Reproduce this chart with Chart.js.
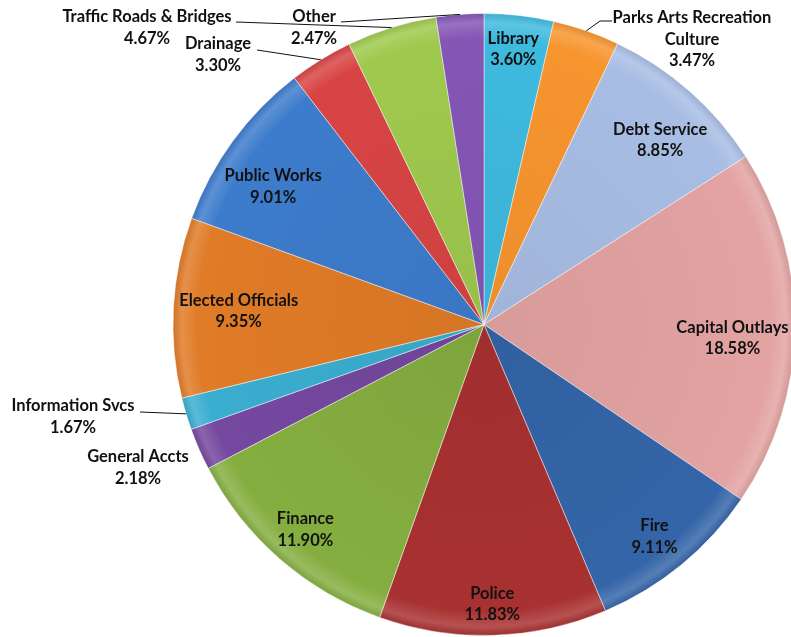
<!DOCTYPE html>
<html>
<head>
<meta charset="utf-8">
<script src="https://cdn.jsdelivr.net/npm/chart.js@4"></script>
<style>
  html, body { margin: 0; padding: 0; background: #fff; overflow: hidden; }
  #wrap { position: absolute; left: 0; top: 0; width: 800px; height: 637px; }
</style>
</head>
<body>
<div id="wrap"><canvas id="budgetChart"></canvas></div>
<script>
// budget share by department, clockwise from 12 o'clock
const departments = ['Library', 'Parks Arts Recreation Culture', 'Debt Service', 'Capital Outlays', 'Fire',
    'Police', 'Finance', 'General Accts', 'Information Svcs', 'Elected Officials', 'Public Works',
    'Drainage', 'Traffic Roads & Bridges', 'Other'];
const shares = [3.60, 3.47, 8.85, 18.58, 9.11, 11.83, 11.90, 2.18, 1.67, 9.35, 9.01, 3.30, 4.67, 2.47];
const sliceColors = ['#3fbadf', '#f7952f', '#a8bde4', '#e2a3a2', '#3465a8', '#a83131', '#85ae40',
    '#74489f', '#3aaed0', '#e07b27', '#3d7ccc', '#d84444', '#9fc94e', '#8456b5'];

// where each label goes: inside at a fraction of the radius (turn = degrees nudge),
// or outside at a fixed spot with a leader line back to the rim
const labelLayout = {
    'Library': { inside: 0.89, turn: -0.4 },
    'Parks Arts Recreation Culture': { lines: ['Parks Arts Recreation', 'Culture'], x: 692, y: 18, leader: [[600, 21], [612, 21]] },
    'Debt Service': { inside: 0.82, turn: 2.3 },
    'Capital Outlays': { inside: 0.80, turn: 2.4 },
    'Fire': { inside: 0.875, turn: 0.6 },
    'Police': { inside: 0.90 },
    'Finance': { inside: 0.875 },
    'General Accts': { x: 138, y: 457 },
    'Information Svcs': { x: 73, y: 406, leader: [[140, 412]] },
    'Elected Officials': { inside: 0.79 },
    'Public Works': { inside: 0.81, turn: -3 },
    'Drainage': { x: 218, y: 44, leader: [[257, 50]] },
    'Traffic Roads & Bridges': { x: 147, y: 17, leader: [[236, 22]] },
    'Other': { x: 314, y: 17, leader: [[341, 22]] }
};

function shade(hex, amt) {
    const n = parseInt(hex.slice(1), 16);
    let r = n >> 16, g = (n >> 8) & 255, b = n & 255;
    const f = c => Math.max(0, Math.min(255, Math.round(amt < 0 ? c * (1 + amt) : c + (255 - c) * amt)));
    return 'rgb(' + f(r) + ',' + f(g) + ',' + f(b) + ')';
}

// flat fill with a bevelled highlight just inside the rim
function sliceFill(ctx) {
    const base = sliceColors[ctx.dataIndex];
    const area = ctx.chart.chartArea;
    if (!area) return base;
    const cx = (area.left + area.right) / 2, cy = (area.top + area.bottom) / 2;
    const r = Math.min(area.right - area.left, area.bottom - area.top) / 2;
    const g = ctx.chart.ctx.createRadialGradient(cx, cy, 0, cx, cy, r);
    g.addColorStop(0, shade(base, -0.05));
    g.addColorStop(0.92, base);
    g.addColorStop(0.97, shade(base, 0.16));
    g.addColorStop(1, shade(base, -0.08));
    return g;
}

const sliceLabels = {
    id: 'sliceLabels',
    afterDatasetsDraw(chart) {
        const c = chart.ctx;
        const arcs = chart.getDatasetMeta(0).data;
        c.save();
        c.font = 'bold 16.5px Lato';
        c.fillStyle = '#111';
        c.textAlign = 'center';
        c.textBaseline = 'middle';
        c.strokeStyle = '#111';
        c.lineWidth = 1;
        arcs.forEach((arc, i) => {
            const name = departments[i];
            const spec = labelLayout[name];
            const p = arc.getProps(['x', 'y', 'startAngle', 'endAngle', 'outerRadius'], true);
            const mid = (p.startAngle + p.endAngle) / 2;
            const pct = shares[i].toFixed(2) + '%';
            const lines = (spec.lines || [name]).concat([pct]);
            let tx, ty;
            if (spec.inside) {
                const d = p.outerRadius * spec.inside;
                const a = mid + (spec.turn || 0) * Math.PI / 180;
                tx = p.x + Math.cos(a) * d;
                ty = p.y + Math.sin(a) * d - (lines.length - 1) * 10.75;
            } else {
                tx = spec.x;
                ty = spec.y;
                if (spec.leader) {
                    c.beginPath();
                    c.moveTo(p.x + Math.cos(mid) * p.outerRadius, p.y + Math.sin(mid) * p.outerRadius);
                    spec.leader.forEach(pt => c.lineTo(pt[0], pt[1]));
                    c.stroke();
                }
            }
            lines.forEach((t, k) => c.fillText(t, tx, ty + k * 21.5));
        });
        c.restore();
    }
};

const ctx = document.getElementById('budgetChart').getContext('2d');
const budgetChart = new Chart(ctx, {
    type: 'pie',
    data: {
        labels: departments,
        datasets: [{
            data: shares,
            backgroundColor: sliceFill,
            borderColor: 'rgba(255,255,255,0.45)',
            borderWidth: 1
        }]
    },
    options: {
        responsive: true,
        maintainAspectRatio: false,
        animation: false,
        layout: {
            padding: { left: 172, right: 4, top: 13, bottom: 1 }
        },
        plugins: {
            legend: { display: false },
            tooltip: { enabled: false }
        }
    },
    plugins: [sliceLabels]
});
</script>
</body>
</html>
